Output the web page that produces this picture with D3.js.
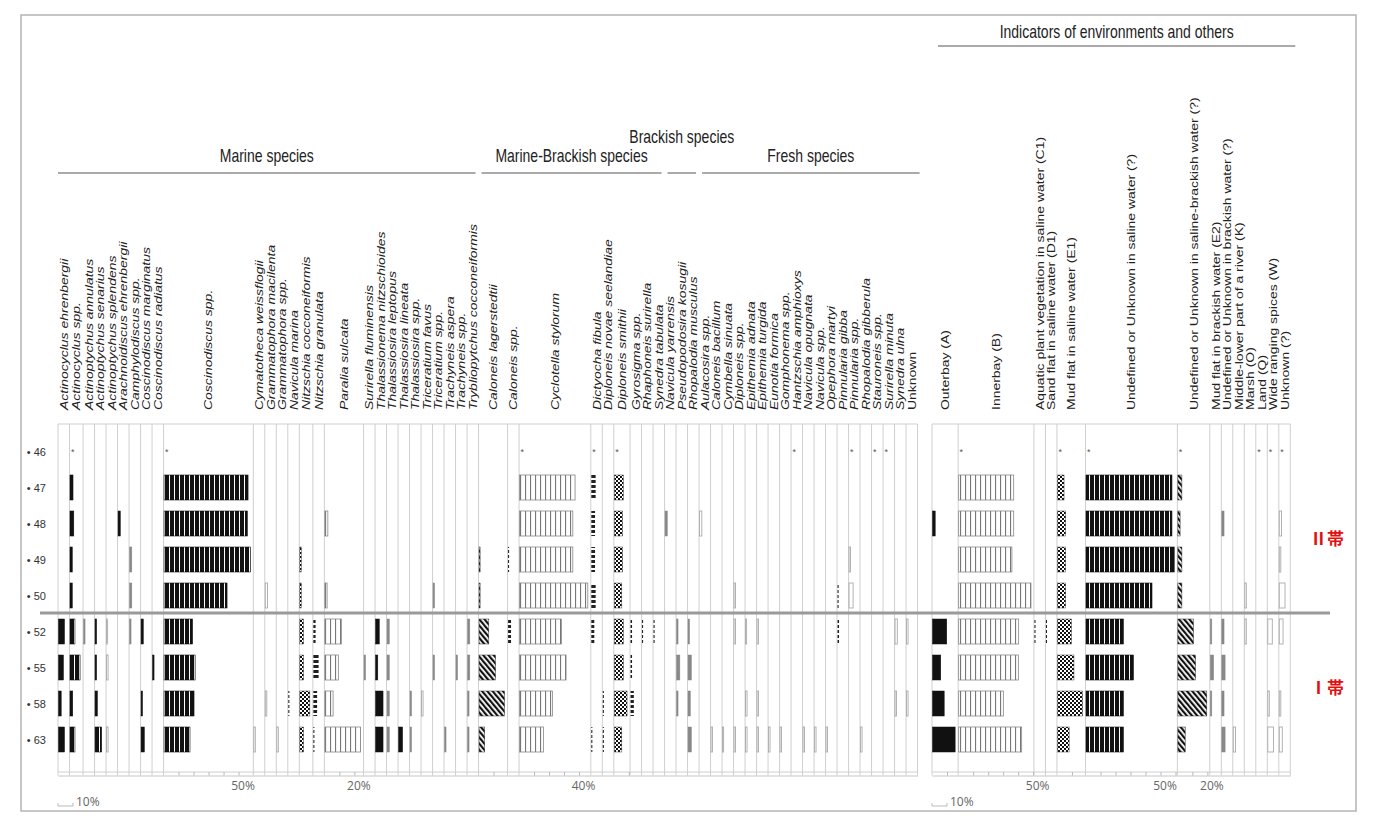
<!DOCTYPE html>
<html><head><meta charset="utf-8">
<script src="https://cdn.jsdelivr.net/npm/d3@7"></script>
<style>body{margin:0;background:#fff}svg{display:block}</style>
</head><body>
<svg id="c" width="1376" height="820"></svg>
<script>
// ---------------- DATA ----------------
const depths = ["46","47","48","49","50","52","55","58","63"];

const marineTaxa = ["Actinocyclus ehrenbergii","Actinocyclus spp.","Actinoptychus annulatus","Actinoptychus senarius","Actinoptychus splendens","Arachnoidiscus ehrenbergii","Camphylodiscus spp.","Coscinodiscus marginatus","Coscinodiscus radiatus","Coscinodiscus spp.","Cymatotheca weissflogii","Grammatophora macilenta","Grammatophora spp.","Navicula marina","Nitzschia cocconeiformis","Nitzschia granulata","Paralia sulcata","Surirella fluminensis","Thalassionema nitzschioides","Thalassiosira leptopus","Thalassiosira lineata","Thalassiosira spp.","Triceratium favus","Triceratium spp.","Trachyneis aspera","Trachyneis spp.","Trybliopytchus cocconeiformis"];
const marineValues = [
[0,0,0,0,0,4,3.3,1.8,4],
["+",2,2.5,1.5,1.5,3.3,6.7,1.8,3.3],
[0,0,0,0,0,1,0,0,0],
[0,0,0,0,0,1,1,1.5,4.4],
[0,0,0,0,0,0.7,1,0,1],
[0,0,1.5,0,0,0,0,0,0],
[0,0,0,1.5,1.5,1,0,0,0],
[0,0,0,0,0,1.5,0,1,2.2],
[0,0,0,0,0,0,1,0,0],
["+",56,55.5,57.5,42,19,20.7,20,17.3],
[0,0,0,0,0,0,0,0,1],
[0,0,0,0,1.5,0,0,1,0],
[0,0,0,0,0,0,0,0,1],
[0,0,0,0,0,0,0,0.7,0],
[0,0,0,1,1,2.5,2.5,6.7,2.5],
[0,0,0,0,0,1.5,3.5,2.5,0.7],
[0,0,2,0,1.5,11,9,5.5,23.8],
[0,0,0,0,0,0,1,0,0],
[0,0,0,0,0,2.5,1.5,5,5],
[0,0,0,0,0,1.5,1.5,1.5,1.5],
[0,0,0,0,0,0,0,0,2.7],
[0,0,0,0,0,0,0,1,1],
[0,0,0,0,0,0,0,1,0],
[0,0,0,0,1,0,1,0,0],
[0,0,0,0,0,0,0,0,1],
[0,0,0,0,0,0,1,0,0],
[0,0,0,0,0,1.5,1.5,1,1]
];

const mbTaxa = ["Caloneis lagerstedtii","Caloneis spp.","Cyclotella stylorum","Dictyocha fibula","Diploneis novae seelandiae","Diploneis smithii","Gyrosigma spp.","Rhaphoneis surirella","Synedra tabulata"];
const mbValues = [
[0,0,0,0.7,0.7,6.5,11,17,3.8],
[0,0,0,0.7,0,2,0,0,0],
["+",37,35.5,35.5,45.5,28,31,22,16],
["+",2.9,2.5,2.5,2.9,2,0,0,0.7],
[0,0,0,0,0,0,0,0.7,0.7],
["+",6,5.5,5.5,5,6,6,8.5,5],
[0,0,0,0,0,1,1,2.2,0],
[0,0,0,0,0,0.7,0,0,0],
[0,0,0,0,0,0.7,0,0,0]
];

const brackishTaxa = ["Navicula yarrensis","Pseudopodosira kosugii","Rhopalodia musculus"];
const brackishValues = [
[0,0,1.5,0,0,0,0,0,0],
[0,0,0,0,0,1,2.2,1,0],
[0,0,0,0,0,1,2.2,1.5,2.2]
];

const freshTaxa = ["Aulacosira spp.","Caloneis bacillum","Cymbella sinuata","Diploneis spp.","Epithemia adnata","Epithemia turgida","Eunotia formica","Gomphonema spp.","Hantzschia amphioxys","Navicula opugnata","Navicula spp.","Opephora martyi","Pinnularia gibba","Pinnularia spp.","Rhopalodia gibberula","Stauroneis spp.","Surirella minuta","Synedra ulna","Unknown"];
const freshValues = [
[0,0,1.5,0,0,0,0,0,0],
[0,0,0,0,0,0,0,0,1],
[0,0,0,0,0,0,0,0,0.7],
[0,0,0,0,1,1,0,0,1],
[0,0,0,0,0,0.7,0,1,1],
[0,0,0,0,0,1,0,1,1],
[0,0,0,0,0,0,0,0,1],
[0,0,0,0,0,0,0,0,1],
["+",0,0,0,0,0,0,0,0],
[0,0,0,0,0,0,0,0,1],
[0,0,0,0,0,0,0,0,1],
[0,0,0,0,0,0,0,0,1],
[0,0,0,0,0.7,1,0,0,0],
["+",0,0,1,2.7,0,0,0,0],
[0,0,0,0,0,0,0,0,1],
["+",0,0,0,0,0,0,0,0],
["+",0,0,0,0,0,0,0,0],
[0,0,0,0,0,1.5,0,1,0],
[0,0,0,0,0,1,0,1,0]
];

const envTaxa = ["Outerbay (A)","Innerbay (B)","Aquatic plant vegetation in saline water (C1)","Sand flat in saline water (D1)","Mud flat in saline water (E1)","Undefined or Unknown in saline water (?)","Undefined or Unknown in saline-brackish water (?)","Mud flat in brackish water (E2)","Undefined or Unknown in brackish water (?)","Middle-lower part of a river (K)","Marsh (O)","Land (Q)","Wide ranging spices (W)","Unknown (?)"];
const envValues = [
[0,0,1.8,0,0,9.5,5.5,7.8,15.1],
["+",36.7,36.7,35.5,48.2,40,39.8,29.8,42],
[0,0,0,0,0,0.7,0,0,0],
[0,0,0,0,0,0.7,0,0,0],
["+",4.4,5.5,5.5,5.5,9.3,11,16.7,7.8],
["+",57.3,57.3,58.9,44,24.9,31.6,24.9,24.9],
["+",2.7,1.5,2.7,2.7,10.4,11.8,19.3,4.9],
[0,0,0,0,0,1,2.2,1,0],
[0,0,1.5,0,0,1.5,2.2,1.5,2.2],
[0,0,0,0,0,0,0,0,1.5],
[0,0,0,0,1,1,0,0,0],
["+",0,0,0,0,0,0,0,0],
["+",0,0,0,0,3,0,1,3.8],
["+",0,1.5,1,3.8,2.5,0,1,2]
];

const tickTaxa = ["Coscinodiscus spp.","Paralia sulcata","Cyclotella stylorum","Innerbay (B)","Undefined or Unknown in saline water (?)","Undefined or Unknown in saline-brackish water (?)"];
const tickLabelValues = [50,20,40,50,50,20];

const groupTitles = ["Marine species","Marine-Brackish species","Brackish species","Fresh species"];
const envTitle = "Indicators of environments and others";
const zoneLabels = ["Ⅱ帯","Ⅰ帯"];
const scaleBarValue = 10;

// ---------------- STYLES (pattern codes per taxon) ----------------
const marineStyles = ["S","B","G","B","W","S","G","S","S","B","W","W","W","D","C","D","L","G","S","G","S","G","W","G","G","G","G"];
const mbStyles = ["H","D","L","D","D","C","D","D","D"];
const brackishStyles = ["G","G","G"];
const freshStyles = ["W","W","W","W","W","W","W","W","W","W","W","W","D","W","W","W","W","W","W"];
const envStyles = ["S","L","D","D","C","B","H","G","G","W","W","W","W","W"];

// ---------------- LAYOUT ----------------
const svg = d3.select("#c");
const FONT = "'Liberation Sans', Arial, Helvetica, sans-serif";
const x = d3.scaleLinear().domain([0,100]).range([0,150]);
const y = d3.scalePoint().domain(depths).range([451.5,739.5]);
const MINW = 11.5, PAD = 3.5, BAR_H = 25;
const TOP = 424, BOTTOM = 772, AXIS_Y = 775.5;
const LEFT_X0 = 58, RIGHT_X0 = 932;

const defs = svg.append("defs");
function pat(id,w,h,build,tf){ const p=defs.append("pattern").attr("id",id).attr("patternUnits","userSpaceOnUse").attr("width",w).attr("height",h); if(tf) p.attr("patternTransform",tf); build(p); }
pat("pB",5,10,p=>{p.append("rect").attr("width",5).attr("height",10).attr("fill","#111");p.append("rect").attr("x",4).attr("width",1).attr("height",10).attr("fill","#fff");});
pat("pL",5,10,p=>{p.append("rect").attr("width",5).attr("height",10).attr("fill","#fff");p.append("rect").attr("x",0).attr("width",1.1).attr("height",10).attr("fill","#777");});
pat("pC",4,4,p=>{p.append("rect").attr("width",4).attr("height",4).attr("fill","#fff");p.append("rect").attr("width",2).attr("height",2).attr("fill","#111");p.append("rect").attr("x",2).attr("y",2).attr("width",2).attr("height",2).attr("fill","#111");});
pat("pH",4,4,p=>{p.append("rect").attr("width",4).attr("height",4).attr("fill","#fff");p.append("rect").attr("width",2.2).attr("height",4).attr("fill","#111");},"rotate(-40)");
pat("pD",4,5,p=>{p.append("rect").attr("width",4).attr("height",5).attr("fill","#fff");p.append("rect").attr("width",4).attr("height",3).attr("fill","#222");});

const styleMap = {
  S:{fill:"#111",stroke:"#111",sw:0.5},
  B:{fill:"url(#pB)",stroke:"#111",sw:0.6},
  L:{fill:"url(#pL)",stroke:"#888",sw:0.8},
  C:{fill:"url(#pC)",stroke:"#444",sw:0.5},
  H:{fill:"url(#pH)",stroke:"#333",sw:0.5},
  D:{fill:"url(#pD)",stroke:"none",sw:0},
  G:{fill:"#888",stroke:"#888",sw:0.5},
  W:{fill:"#fff",stroke:"#aaa",sw:0.9}
};

function colWidth(vals){ const m=d3.max(vals,v=>typeof v==="number"?v:0); return Math.max(MINW, x(m)+PAD); }

function layout(groups,x0){
  let cx=x0; const cols=[]; const spans=[];
  groups.forEach(g=>{
    const gs=cx;
    g.taxa.forEach((t,i)=>{ const w=colWidth(g.values[i]); cols.push({name:t,values:g.values[i],style:g.styles[i],x0:cx,w,italic:g.italic&&t!=="Unknown"}); cx+=w; });
    spans.push({title:g.title,x0:gs,x1:cx,raised:g.raised});
  });
  return {cols,spans,x1:cx};
}

const left = layout([
  {title:groupTitles[0],taxa:marineTaxa,values:marineValues,styles:marineStyles,italic:true},
  {title:groupTitles[1],taxa:mbTaxa,values:mbValues,styles:mbStyles,italic:true},
  {title:groupTitles[2],taxa:brackishTaxa,values:brackishValues,styles:brackishStyles,italic:true,raised:true},
  {title:groupTitles[3],taxa:freshTaxa,values:freshValues,styles:freshStyles,italic:true}
],LEFT_X0);
const right = layout([{title:envTitle,taxa:envTaxa,values:envValues,styles:envStyles,italic:false}],RIGHT_X0);

// outer frame
svg.append("rect").attr("x",21).attr("y",15).attr("width",1335).attr("height",796).attr("fill","none").attr("stroke","#b4b4b4").attr("stroke-width",1.5);

const tickMap = new Map(tickTaxa.map((t,i)=>[t,tickLabelValues[i]]));

function drawPanel(P){
  const g = svg.append("g");
  const bounds = P.cols.map(c=>c.x0).concat([P.x1]);
  g.selectAll("line.grid").data(bounds).join("line").attr("class","grid")
    .attr("x1",d=>d).attr("x2",d=>d).attr("y1",TOP).attr("y2",AXIS_Y)
    .attr("stroke","#cfcfcf").attr("stroke-width",1);
  g.append("line").attr("x1",P.cols[0].x0).attr("x2",P.x1).attr("y1",TOP).attr("y2",TOP).attr("stroke","#cfcfcf");
  g.append("line").attr("x1",P.cols[0].x0).attr("x2",P.x1).attr("y1",BOTTOM).attr("y2",BOTTOM).attr("stroke","#cfcfcf");

  P.cols.forEach(c=>{
    const maxPct = x.invert(c.w);
    const s = d3.scaleLinear().domain([0,maxPct]).range([c.x0,c.x0+c.w]);
    const lbl = tickMap.get(c.name);
    const ax = d3.axisBottom(s).tickValues(d3.range(10,maxPct-0.3,10)).tickSize(-3.5).tickSizeOuter(0).tickPadding(6)
      .tickFormat(d=>d===lbl?d+"%":"");
    const ag = g.append("g").attr("transform",`translate(0,${AXIS_Y})`).call(ax);
    ag.select(".domain").attr("stroke","#c4c4c4");
    ag.selectAll(".tick line").attr("stroke","#b8b8b8");
    ag.selectAll(".tick text").attr("x",4).attr("fill","#666").attr("font-family","'Open Sans', 'Noto Sans', sans-serif").attr("font-size",12);
  });

  P.cols.forEach(c=>{
    const st = styleMap[c.style];
    const items = depths.map((d,i)=>({d,v:c.values[i]}));
    g.selectAll(null).data(items.filter(o=>typeof o.v==="number"&&o.v>0)).join("rect")
      .attr("x",c.x0+0.5).attr("y",o=>y(o.d)-BAR_H/2).attr("width",o=>Math.max(1,x(o.v)))
      .attr("height",BAR_H).attr("fill",st.fill).attr("stroke",st.stroke).attr("stroke-width",st.sw);
    g.selectAll(null).data(items.filter(o=>o.v==="+")).join("text")
      .attr("x",c.x0+3.2).attr("y",o=>y(o.d)+3).attr("text-anchor","middle")
      .attr("font-size",9).attr("font-family",FONT).attr("fill","#555").text("*");
  });

  P.cols.forEach(c=>{
    const cx = c.x0 + c.w/2 + 4;
    g.append("text").attr("transform",`translate(${cx},410) rotate(-90) scale(1.27,1)`)
      .attr("font-family",FONT).attr("font-size",11).attr("font-style",c.italic?"italic":"normal")
      .attr("fill","#222").text(c.name);
  });

  const sb = g.append("g").attr("transform",`translate(${P.cols[0].x0},806)`);
  sb.append("path").attr("d",`M0,-3V0H${x(scaleBarValue)}V-3`).attr("fill","none").attr("stroke","#bbb").attr("stroke-width",1);
  sb.append("text").attr("x",x(scaleBarValue)+3).attr("y",0).attr("font-family","'Open Sans', 'Noto Sans', sans-serif")
    .attr("font-size",12).attr("fill","#666").text(scaleBarValue+"%");
}
drawPanel(left);
drawPanel(right);

function header(text,cx,by){
  svg.append("text").attr("transform",`translate(${cx},${by}) scale(1,1.3)`).attr("text-anchor","middle")
    .attr("font-family",FONT).attr("font-size",14).attr("fill","#222").text(text);
}
left.spans.forEach((s,i)=>{
  const a = s.x0 + (i===0?0:3), b = s.x1 - 3 + (i===left.spans.length-1?5:0);
  svg.append("line").attr("x1",a).attr("x2",b).attr("y1",173).attr("y2",173).attr("stroke","#aaa").attr("stroke-width",2);
  header(s.title,(a+b)/2, s.raised?143:161.5);
});
{
  const s = right.spans[0]; const a = s.x0+6, b = s.x1+5;
  svg.append("line").attr("x1",a).attr("x2",b).attr("y1",46).attr("y2",46).attr("stroke","#aaa").attr("stroke-width",2);
  header(s.title,(a+b)/2,37.5);
}

svg.append("g").selectAll("text").data(depths).join("text")
  .attr("x",46).attr("y",d=>y(d)+4).attr("text-anchor","end")
  .attr("font-family",FONT).attr("font-size",11).attr("fill","#333").text(d=>"•  "+d);

const sepY = (y("50")+y("52"))/2 - 0.5;
svg.append("line").attr("x1",40).attr("x2",1330).attr("y1",sepY).attr("y2",sepY).attr("stroke","#9a9a9a").attr("stroke-width",3);

const zoneY = [ (y("48")+y("49"))/2 - 4.5 + 8, (y("52")+y("63"))/2 + 8 ];
svg.selectAll("text.zone").data(zoneLabels).join("text").attr("class","zone")
  .attr("x",1310).attr("y",(d,i)=>zoneY[i])
  .attr("font-family","'Noto Sans CJK JP', sans-serif").attr("font-weight","bold").attr("font-size",17)
  .attr("fill","#e31010").text(d=>d);
</script>
</body></html>
